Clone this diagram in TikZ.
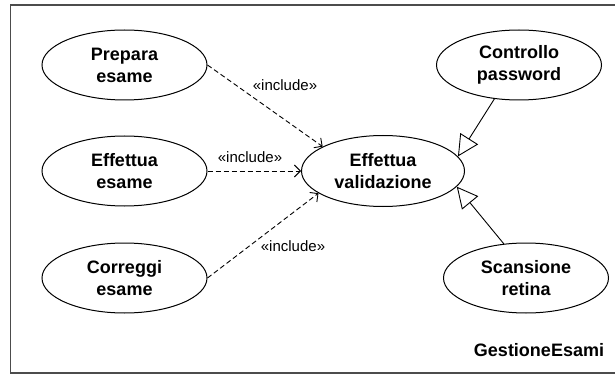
\documentclass[tikz,border=0pt]{standalone}
\usepackage{fontspec}
\setmainfont{Liberation Sans}
\usetikzlibrary{shapes,arrows,arrows.meta,positioning}

\begin{document}
\begin{tikzpicture}[
            x=1pt, y=-1pt,
            usecase/.style={draw, ellipse, line width=1pt, minimum width=165pt, minimum height=70pt, inner sep=0pt, align=center, font=\fontsize{18}{22}\selectfont\bfseries},
            incl/.style={line width=0.9pt, dash pattern=on 5pt off 3pt, -{Straight Barb[length=6pt,width=12pt]}},
            gen/.style={line width=0.9pt, -{Triangle[open,length=21pt,width=21pt]}},
            stereo/.style={font=\fontsize{15}{18}\selectfont},
        ]
            \useasboundingbox (0,0) rectangle (615,374);
            \draw[line width=1.5pt, gray!60!black] (615,5) -- (10.5,5) -- (10.5,373) -- (615,373);

            \node[usecase] (prepara) at (124.5,65) {Prepara\\esame};
            \node[usecase] (effesame) at (124.5,171) {Effettua\\esame};
            \node[usecase] (correggi) at (124.5,278) {Correggi\\esame};
            \node[usecase, minimum width=163pt, minimum height=71pt] (validazione) at (383,171) {Effettua\\validazione};
            \node[usecase] (password) at (519,65) {Controllo\\password};
            \node[usecase] (retina) at (526,278) {Scansione\\retina};

            \draw[incl] (prepara.east) -- (validazione.158);
            \draw[incl] (effesame.east) -- (validazione.west);
            \draw[incl] (correggi.east) -- (validazione.199);
            \draw[gen] (password.-126) -- (validazione.11);
            \draw[gen] (retina.123) -- (validazione.-12);

            \node[stereo] (lab1) at (285,85) {«include»};
            \node[stereo] (lab2) at (250,157) {«include»};
            \node[stereo] (lab3) at (293,246) {«include»};

            \node[font=\fontsize{18}{22}\selectfont\bfseries] (pkg) at (539,350) {GestioneEsami};
        \end{tikzpicture}
\end{document}
